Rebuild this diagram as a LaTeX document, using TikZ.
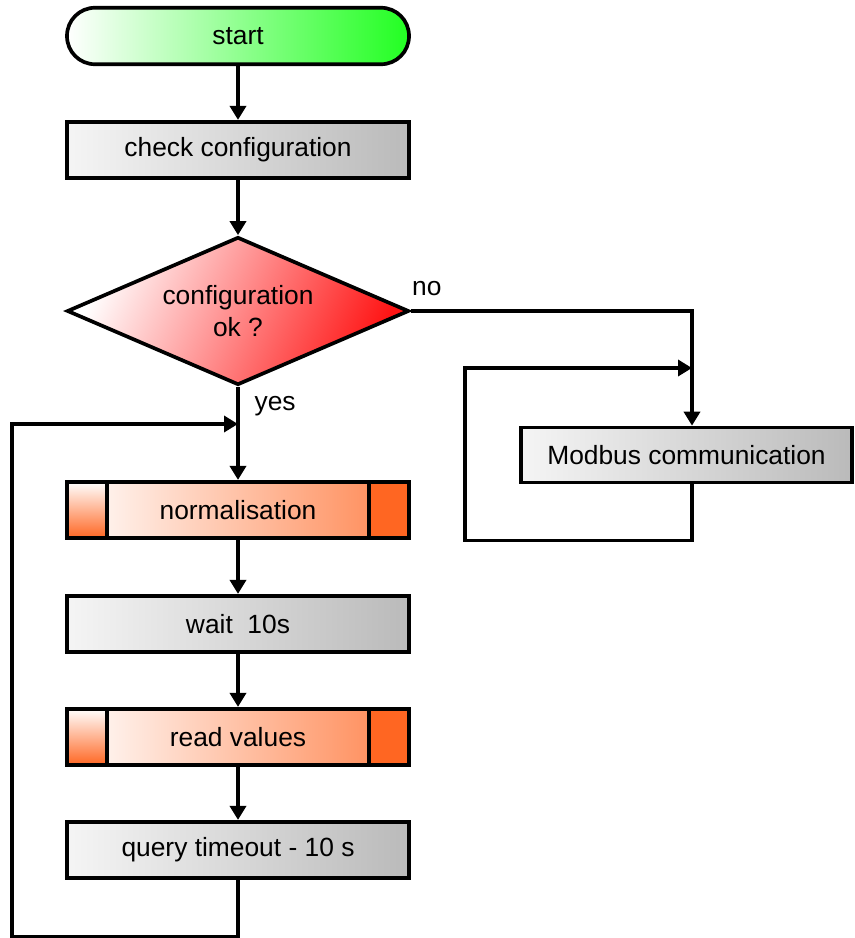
\documentclass[tikz,border=0pt]{standalone}
\usepackage{fontspec}
\setmainfont{Liberation Sans}
\usepackage{tikz}
\usetikzlibrary{arrows.meta, shapes.geometric}
\usepackage{xcolor}

\definecolor{procorange}{RGB}{255,102,34}
\definecolor{startgreen}{RGB}{34,255,34}
\definecolor{decred}{RGB}{255,20,20}

\tikzset{
  box/.style={draw, line width=2.1pt, minimum width=6.84cm, minimum height=1.13cm,
    left color=black!4, right color=black!27},
  startbox/.style={box, rounded corners=0.56cm, left color=white, right color=startgreen},
  decbox/.style={draw, line width=2.1pt, diamond, aspect=2.3, inner sep=0pt,
    minimum width=6.84cm, minimum height=2.96cm, align=center,
    left color=white, right color=decred, shading angle=65},
  subproc/.style={box, left color=white, right color=procorange!80,
    path picture={
      \fill[top color=white, bottom color=procorange]
        (path picture bounding box.north west) rectangle
        ([xshift=0.8cm]path picture bounding box.south west);
      \fill[procorange]
        ([xshift=-0.8cm]path picture bounding box.north east) rectangle
        (path picture bounding box.south east);
      \draw[line width=2.1pt]
        ([xshift=0.8cm]path picture bounding box.north west) --
        ([xshift=0.8cm]path picture bounding box.south west);
      \draw[line width=2.1pt]
        ([xshift=-0.8cm]path picture bounding box.north east) --
        ([xshift=-0.8cm]path picture bounding box.south east);
    }},
  flow/.style={->, line width=2.1pt},
}

\begin{document}
\begin{tikzpicture}[
  >={Triangle[length=2.8mm, width=3.2mm]},
  font=\fontsize{15}{18}\selectfont,
  ]
  \useasboundingbox (0,0) rectangle (17.08,-18.76);

  % main column
  \node[startbox] (start) at (4.76,-0.72) {start};
  \node[box] (check) at (4.76,-3.0) {check configuration};
  \node[decbox] (dec) at (4.76,-6.22) {configuration\\ok ?};
  \node[subproc] (norm) at (4.76,-10.2) {normalisation};
  \node[box] (wait) at (4.76,-12.48) {wait\ \ 10s};
  \node[subproc] (read) at (4.76,-14.74) {read values};
  \node[box] (query) at (4.76,-17.0) {query timeout - 10 s};

  % right branch
  \node[box, minimum width=6.62cm, minimum height=1.1cm] (modbus) at (13.73,-9.1) {Modbus communication};

  % branch labels
  \node[anchor=south west, inner sep=1pt] (no) at (8.2,-5.95) {no};
  \node[anchor=west, inner sep=1pt] (yes) at (5.05,-8.12) {yes};

  % helper points
  \coordinate (rcol) at (13.84,0);
  \coordinate (yesin) at (4.76,-8.48);
  \coordinate (modin) at (13.84,-7.36);

  % connectors
  \draw[flow] (start) -- (check);
  \draw[flow] (check) -- (dec);
  \draw[flow] (dec) -- (norm);
  \draw[flow] (norm) -- (wait);
  \draw[flow] (wait) -- (read);
  \draw[flow] (read) -- (query);
  \draw[flow] (dec.east) -| (modbus.north -| rcol);

  % loops
  \draw[flow] (query.south) -- ++(0,-1.14) -| (0.24,-8.48) -- (yesin);
  \draw[flow] (modbus.south -| rcol) -- ++(0,-1.12) -| (9.3,-7.36) -- (modin);
\end{tikzpicture}
\end{document}
